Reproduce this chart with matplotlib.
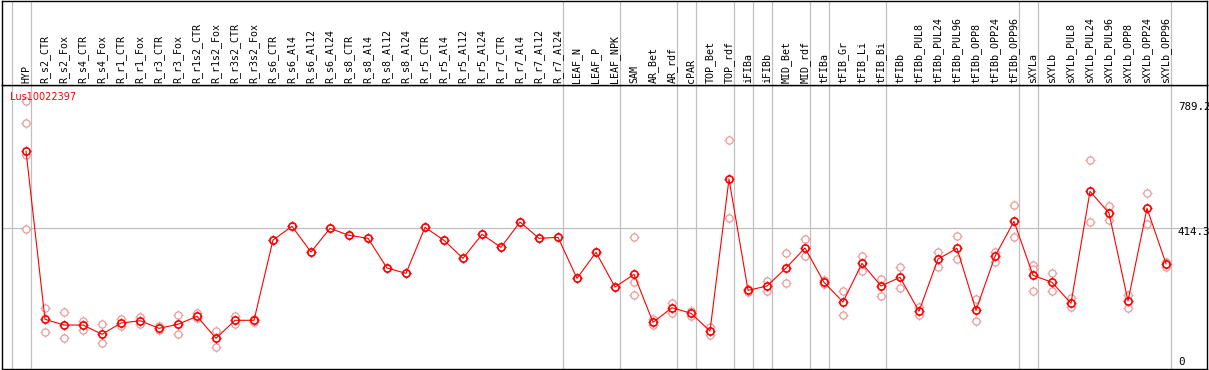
import matplotlib
matplotlib.use("Agg")
import matplotlib.pyplot as plt

# gene shown in the plot
gene = "Lus10022397"

samples = ["HYP",
           "R_s2_CTR", "R_s2_Fox", "R_s4_CTR", "R_s4_Fox", "R_r1_CTR", "R_r1_Fox",
           "R_r3_CTR", "R_r3_Fox", "R_r1s2_CTR", "R_r1s2_Fox", "R_r3s2_CTR", "R_r3s2_Fox",
           "R_s6_CTR", "R_s6_Al4", "R_s6_Al12", "R_s6_Al24",
           "R_s8_CTR", "R_s8_Al4", "R_s8_Al12", "R_s8_Al24",
           "R_r5_CTR", "R_r5_Al4", "R_r5_Al12", "R_r5_Al24",
           "R_r7_CTR", "R_r7_Al4", "R_r7_Al12", "R_r7_Al24",
           "LEAF_N", "LEAF_P", "LEAF_NPK", "SAM", "AR_Bet", "AR_rdf", "cPAR",
           "TOP_Bet", "TOP_rdf", "iFIBa", "iFIBb", "MID_Bet", "MID_rdf",
           "tFIBa", "tFIB_Gr", "tFIB_Li", "tFIB_Bi", "tFIBb",
           "tFIBb_PUL8", "tFIBb_PUL24", "tFIBb_PUL96", "tFIBb_OPP8", "tFIBb_OPP24", "tFIBb_OPP96",
           "sXYLa", "sXYLb",
           "sXYLb_PUL8", "sXYLb_PUL24", "sXYLb_PUL96", "sXYLb_OPP8", "sXYLb_OPP24", "sXYLb_OPP96"]

# mean expression per sample
means = [640.8,
         146.1, 129.3, 129.3, 102.0, 135.2, 142.0, 119.6, 131.4, 154.9, 90.2, 143.2, 143.2,
         379.2, 419.5, 343.9, 413.6, 393.0, 384.2, 296.9, 281.3,
         416.5, 378.3, 325.4, 395.9, 357.7, 432.1, 384.2, 387.1,
         266.6, 343.0, 241.0, 278.4, 137.3, 180.2, 163.7,
         111.7, 558.5, 231.3, 244.0, 296.9, 355.7,
         254.9, 196.9, 310.7, 244.0, 269.5,
         169.6, 323.3, 354.8, 172.5, 331.3, 434.2,
         275.4, 254.9,
         193.1, 522.3, 458.6, 199.9, 472.4, 309.5]

# replicate values per sample
reps = [[789.2, 722.2, 629.0, 411.5],
        [178.4, 109.6], [166.7, 90.2], [142.0, 114.6], [131.4, 75.5], [146.1, 125.5],
        [153.7, 133.2], [127.3, 114.6], [158.7, 102.0], [164.6, 149.9], [112.6, 63.8],
        [154.9, 133.2], [148.4, 138.2],
        [379.2], [419.5], [343.9], [413.6], [393.0], [384.2], [296.9], [281.3],
        [416.5], [378.3], [325.4], [395.9], [357.7], [432.1], [384.2], [387.1],
        [266.6], [343.0], [241.0],
        [387.1, 254.9, 217.5], [146.1, 129.3], [194.0, 165.5], [170.5, 156.7],
        [122.6, 99.9], [672.3, 443.0], [235.2, 227.5], [259.6, 230.2], [341.0, 251.9],
        [382.1, 331.3],
        [260.7, 249.0], [229.3, 158.7], [332.2, 288.9], [264.6, 214.6], [299.8, 237.2],
        [181.4, 158.7], [343.9, 300.7], [390.1, 323.3], [204.9, 140.2], [344.8, 315.4],
        [481.2, 387.1],
        [305.7, 293.9, 229.3], [281.3, 229.3],
        [207.8, 183.1], [613.5, 431.2], [478.2, 438.9], [217.5, 180.2], [516.5, 427.1],
        [315.4, 300.7]]

# last sample index of each tissue group (-1 = left edge)
group_ends = [-1, 0, 28, 31, 34, 35, 37, 38, 39, 41, 42, 45, 52, 53, 60]

y_max = 789.2
y_mid = 414.3

W, H = 1209, 370
fig = plt.figure(figsize=(W / 100, H / 100), dpi=100)
fig.patch.set_facecolor("white")

x_lim = ((1.5 - 26) / 19, (1207 - 26) / 19)

ax = fig.add_axes([1.5 / W, 1 / H, 1205.5 / W, 284 / H])
ax_h = fig.add_axes([1.5 / W, 285 / H, 1205.5 / W, 84.5 / H])

gray = "#c0c0c0"
for a in (ax, ax_h):
    a.set_xlim(*x_lim)
    a.set_xticks([])
    a.set_yticks([])
    for s in a.spines.values():
        s.set_color("black")
        s.set_linewidth(1.0)
    for k in group_ends:
        a.axvline(k + 0.24, color=gray, lw=0.9, zorder=1)

ax.set_ylim(0, 835)
ax_h.set_ylim(0, 84.5)
ax.axhline(y_mid, color=gray, lw=0.9, zorder=1)

# header labels
for i, name in enumerate(samples):
    ax_h.text(i, 2, name, rotation=90, ha="center", va="bottom",
              family="DejaVu Sans Mono", fontsize=7.2, color="black")

pink = "#eb9a9a"
red = "#ff0000"
xs = list(range(len(samples)))

# replicates
for i, r in enumerate(reps):
    rx = [i] * len(r)
    ax.plot(rx, r, ls="none", marker="+", ms=7.2, mew=0.8, color=pink, zorder=2)
    ax.plot(rx, r, ls="none", marker="o", ms=5.2, mew=0.9, mec=pink, mfc="white", zorder=2.5)

# means
ax.plot(xs, means, ls="none", marker="+", ms=7.2, mew=0.9, color=red, zorder=3)
ax.plot(xs, means, ls="none", marker="o", ms=5.2, mew=0.9, mec=red, mfc="white", zorder=3.5)
ax.plot(xs, means, color=red, lw=0.8, zorder=4)
ax.plot(xs, means, ls="none", marker="o", ms=5.2, mew=1.0, mec=red, mfc="none", zorder=5)

fig.text(10 / W, 1 - 97 / H, gene, color=red, fontsize=7, family="DejaVu Sans",
         ha="left", va="center")
for lab, yp in [(f"{y_max}", 107.3), (f"{y_mid}", 232), ("0", 361.7)]:
    fig.text(1178 / W, 1 - yp / H, lab, color="black", fontsize=7.8,
             family="DejaVu Sans Mono", ha="left", va="center")

fig.savefig("out.png", dpi=100)
